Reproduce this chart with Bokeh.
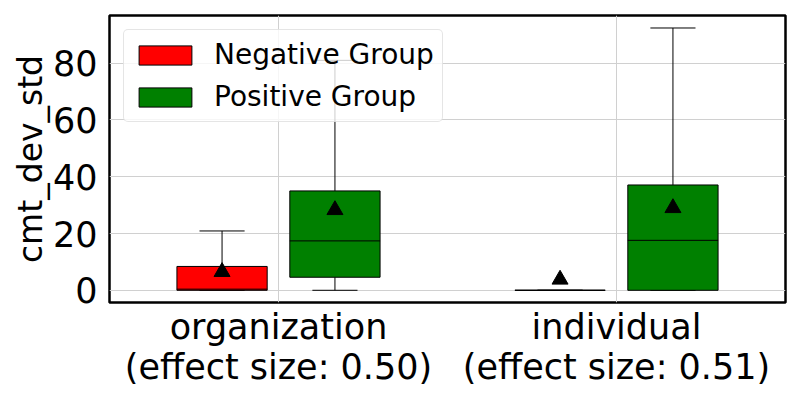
from bokeh.plotting import figure
from bokeh.models import (ColumnDataSource, Range1d, FixedTicker, Legend, LegendItem)
from bokeh.transform import dodge
from bokeh.embed import file_html
from bokeh.resources import INLINE

categories = ["organization", "individual"]
tick_labels = ["organization\n(effect size: 0.50)", "individual\n(effect size: 0.51)"]
groups = ["Negative Group", "Positive Group"]
colors = ["red", "green"]
y_ticks = [0, 20, 40, 60, 80]

neg_low = [0.0, 0.0]
neg_q1 = [0.0, 0.0]
neg_median = [0.4, 0.0]
neg_q3 = [8.4, 0.0]
neg_high = [20.9, 0.0]
neg_mean = [6.5, 3.8]

pos_low = [0.0, 0.0]
pos_q1 = [4.6, 0.0]
pos_median = [17.4, 17.6]
pos_q3 = [35.0, 37.1]
pos_high = [81.0, 92.4]
pos_mean = [28.3, 29.0]

FONT = "DejaVu Sans"
BOX_W = 0.267
OFFS = [-0.167, 0.167]

n = len(categories)
cat_pos = [i + 0.5 for i in range(n)]  # category slots, as in a factor range

p = figure(frame_width=676, frame_height=287, output_backend="svg", toolbar_location=None,
           x_range=Range1d(0, n), y_range=Range1d(-4.3, 96.8),
           min_border_left=109, min_border_right=7, min_border_top=15, min_border_bottom=80)

stats = [
    dict(pos=cat_pos, low=neg_low, q1=neg_q1, median=neg_median, q3=neg_q3, high=neg_high, mean=neg_mean),
    dict(pos=cat_pos, low=pos_low, q1=pos_q1, median=pos_median, q3=pos_q3, high=pos_high, mean=pos_mean),
]

items = []
for g, (st, col, off) in enumerate(zip(stats, colors, OFFS)):
    src = ColumnDataSource(st)
    xc = dodge("pos", off)
    xl = dodge("pos", off - BOX_W / 2)
    xr = dodge("pos", off + BOX_W / 2)
    cl = dodge("pos", off - BOX_W / 4)
    cr = dodge("pos", off + BOX_W / 4)
    p.segment(x0=xc, y0="q3", x1=xc, y1="high", source=src, line_color="black", line_width=1)
    p.segment(x0=xc, y0="q1", x1=xc, y1="low", source=src, line_color="black", line_width=1)
    p.segment(x0=cl, y0="high", x1=cr, y1="high", source=src, line_color="black", line_width=1)
    p.segment(x0=cl, y0="low", x1=cr, y1="low", source=src, line_color="black", line_width=1)
    box = p.vbar(x=xc, width=BOX_W, bottom="q1", top="q3", source=src,
                 fill_color=col, line_color="black", line_width=1)
    p.segment(x0=xl, y0="median", x1=xr, y1="median", source=src, line_color="black", line_width=1)
    p.scatter(x=xc, y="mean", source=src, marker="triangle", size=16,
              fill_color="black", line_color="black")
    items.append(LegendItem(label=groups[g], renderers=[box]))

legend = Legend(items=items, location="top_left", margin=14,
                label_text_font=FONT, label_text_font_size="28px", label_text_color="black",
                glyph_width=66, glyph_height=24, label_standoff=16,
                padding=8, spacing=9,
                border_line_color="#cccccc", border_line_width=1, border_radius=5,
                background_fill_color="white", background_fill_alpha=0.8)
p.add_layout(legend, "center")

p.outline_line_color = "black"
p.outline_line_width = 2.5
p.background_fill_color = "white"
p.border_fill_color = "white"

p.xaxis.ticker = FixedTicker(ticks=cat_pos)
p.xaxis.major_label_overrides = {t: l for t, l in zip(cat_pos, tick_labels)}
p.yaxis.ticker = FixedTicker(ticks=y_ticks)
p.yaxis.axis_label = "cmt_dev_std"

p.xgrid.grid_line_color = "#d0d0d0"
p.ygrid.grid_line_color = "#d0d0d0"
p.xgrid.grid_line_width = 1
p.ygrid.grid_line_width = 1

for ax in (p.xaxis[0], p.yaxis[0]):
    ax.axis_line_color = None
    ax.major_tick_line_color = None
    ax.minor_tick_line_color = None
    ax.major_tick_out = 0
    ax.major_tick_in = 0
    ax.major_label_text_font = FONT
    ax.major_label_text_font_size = "35px"
    ax.major_label_text_color = "black"
    ax.axis_label_text_font = FONT
    ax.axis_label_text_font_size = "33px"
    ax.axis_label_text_font_style = "normal"
    ax.axis_label_text_color = "black"

p.xaxis.major_label_text_line_height = 1.0
p.yaxis.major_label_standoff = 12
p.yaxis.axis_label_standoff = 0
p.xaxis.major_label_standoff = 4

open("out.html", "w").write(file_html(p, INLINE))
